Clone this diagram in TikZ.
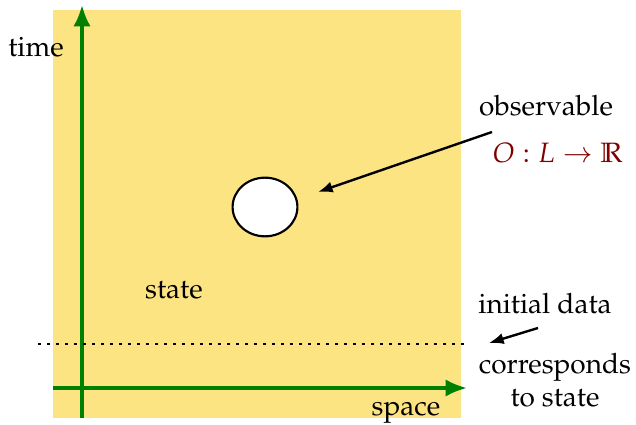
\documentclass[tikz,border=0pt]{standalone}
\usepackage[T1]{fontenc}
\usepackage{mathpazo}
\usepackage{amssymb}
\usetikzlibrary{arrows.meta,shapes.geometric}
\definecolor{bgyellow}{RGB}{253,228,130}
\definecolor{axgreen}{RGB}{0,128,0}
\definecolor{darkred}{RGB}{128,0,0}
\tikzset{
  axis/.style={draw=axgreen, line width=1.35pt, -{Latex[length=8pt,width=6.5pt]}},
  pointer/.style={draw=black, line width=0.9pt, -{Latex[length=5.5pt,width=4.2pt]}},
  lbl/.style={inner sep=0pt, font=\fontsize{10.5pt}{12.5pt}\selectfont},
}
\begin{document}
\begin{tikzpicture}[x=0.375pt, y=-0.375pt]
\useasboundingbox (0,0) rectangle (636,425);
\fill[bgyellow] (53,10) rectangle (461,418);
% axes
\coordinate (ybot) at (82,418);
\coordinate (ytop) at (82,5);
\coordinate (xleft) at (53,388);
\coordinate (xright) at (467,388);
\draw[axis] (ybot) -- (ytop);
\draw[axis] (xleft) -- (xright);
% dotted initial data line
\coordinate (dl) at (38,344);
\coordinate (dr) at (468,344);
\draw[line width=1.1pt, dash pattern=on 1.1pt off 2.275pt] (dl) -- (dr);
% observable region
\node[ellipse, draw, fill=white, line width=0.8pt, minimum width=24.3pt, minimum height=22pt, inner sep=0pt] (obs) at (265,207) {};
% labels
\node[lbl] (time) at (36,47) {time};
\node[lbl] (space) at (406,413) {space};
\node[lbl] (state) at (174,290) {state};
\node[lbl] (observable) at (546,106) {observable};
\node[lbl, text=darkred] (map) at (558,153) {$O:L\to\mathbb{R}$};
\node[lbl] (initial) at (545,303) {initial data};
\node[lbl, align=center] (corr) at (555,380) {corresponds\\to state};
% pointers
\coordinate (p1s) at (492,132);
\coordinate (p1e) at (318,192);
\draw[pointer] (p1s) -- (p1e);
\coordinate (p2s) at (538,328);
\coordinate (p2e) at (489,343);
\draw[pointer] (p2s) -- (p2e);
\end{tikzpicture}
\end{document}
